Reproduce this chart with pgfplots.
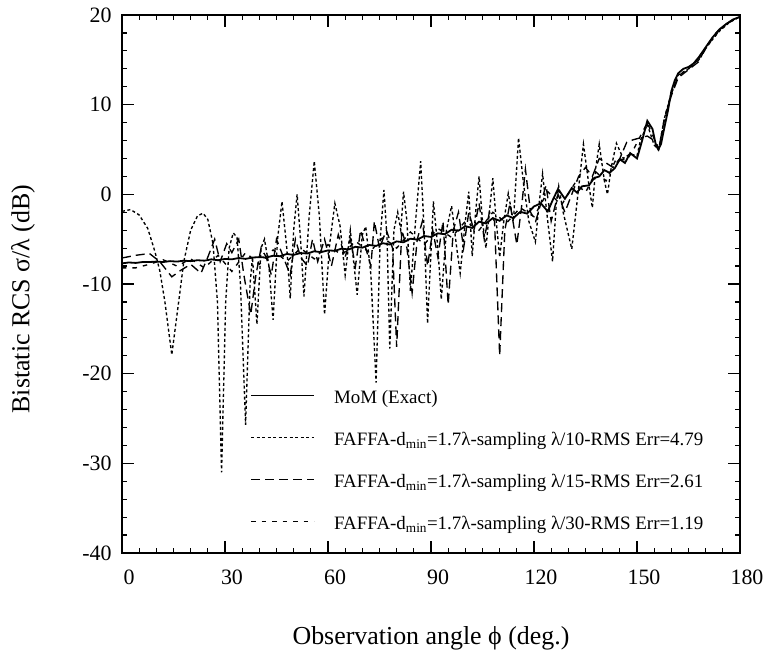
\documentclass[border=0pt]{standalone}
\usepackage{fontspec}
\setmainfont{Liberation Serif}
\usepackage{pgfplots}
\pgfplotsset{compat=1.18}
\usetikzlibrary{calc}
\begin{document}
\begin{tikzpicture}
\begin{axis}[
  name=ax,
  scale only axis, width=618bp, height=538bp,
  xmin=0, xmax=180, ymin=-40, ymax=20,
  xtick={0,30,...,180}, ytick={-40,-30,...,20},
  minor x tick num=5, minor y tick num=4,
  tick align=inside,
  major tick length=12bp, minor tick length=5bp,
  axis line style={line width=1.6bp},
  every tick/.style={line width=1.2bp, black},
  /pgf/number format/assume math mode=true,
  tick label style={font=\fontsize{22}{26}\selectfont},
  xticklabel style={yshift=-13bp, xshift=7bp},
  yticklabel style={xshift=-7bp},
  xlabel={Observation angle ϕ (deg.)},
  ylabel={Bistatic RCS σ/λ (dB)},
  every axis x label/.style={at={(axis description cs:0.5,-0.158)}, anchor=center, font=\fontsize{26}{30}\selectfont},
  every axis y label/.style={at={(axis description cs:-0.160,0.472)}, anchor=center, rotate=90, font=\fontsize{26}{30}\selectfont},
  legend cell align=left,
  legend style={draw=none, fill=none, at={(axis cs:37.3,-21.9)}, anchor=north west,
    inner sep=0pt, row sep=23bp, column sep=19bp,
    font=\fontsize{19}{22}\selectfont,
    nodes={inner sep=0pt, text height=13bp, text depth=6bp}},
  legend image code/.code={\draw[#1] (0bp,5bp) -- (63bp,5bp);},
]
% MoM (Exact)
\addplot[black, line width=1.8bp] coordinates {
(0,-7.7) (2,-7.6) (4,-7.65) (6,-7.55) (8,-7.55) (10,-7.5) (12,-7.55) (14,-7.45)
(16,-7.5) (18,-7.4) (20,-7.45) (22,-7.35) (24,-7.4) (26,-7.25) (28,-7.35) (30,-7.2)
(32,-7.25) (34,-7.1) (36,-7.2) (38,-7.05) (40,-7.0) (42,-7.05) (44,-6.85) (46,-6.9)
(48,-6.65) (50,-6.75) (52,-6.55) (54,-6.6) (56,-6.35) (58,-6.45) (60,-6.25) (62,-6.3)
(64,-6.05) (66,-6.15) (68,-5.85) (70,-5.95) (72,-5.65) (74,-5.75) (76,-5.45) (78,-5.6)
(80,-5.25) (82,-5.35) (84,-4.95) (86,-5.05) (88,-4.65) (90,-4.75) (92,-4.35) (94,-4.45)
(96,-3.95) (98,-4.05) (100,-3.55) (102,-3.75) (104,-3.05) (106,-3.25) (108,-2.65) (110,-2.95)
(112,-2.35) (114,-2.65) (116,-1.95) (118,-2.15) (120,-1.35) (122,-1.0) (124,-1.9) (125.5,-0.6)
(127,0.6) (129,-0.5) (131,0.7) (132.5,0.2) (134,0.9) (136,1.0) (137.5,1.8) (139,2.0)
(140.5,2.7) (142,2.4) (143.5,2.9) (145,3.9) (146.5,3.5) (148,4.6) (150,4.0) (151.5,6.0)
(153,8.2) (154.5,7.3) (155.5,5.5) (156.2,5.0) (157,5.6) (158,7.5) (159,9.3) (160,11.5)
(161,12.7) (162,13.5) (163.5,14.0) (165,14.2) (166.5,14.6) (168,15.3) (170,16.4) (172,17.5)
(174,18.4) (176,19.0) (178,19.5) (180,19.8)
};
\addlegendentry{MoM (Exact)}
% lambda/10
\addplot[black, line width=1.35bp, dash pattern=on 3bp off 2.5bp] coordinates {
(0,-1.9) (2.5,-1.7) (5,-2.3) (7.5,-3.8) (9.6,-6.4) (11,-8.5) (12.5,-12) (14.5,-17.9)
(16.5,-12) (18,-7.5) (20,-4) (22,-2.4) (23.6,-2.1) (25,-2.8) (26.5,-5.5) (27.8,-12)
(29,-31) (30.2,-12) (31.2,-6) (32.4,-4.3) (33.5,-4.8) (34.5,-10) (36,-25.7) (37.3,-10)
(38,-7) (39.3,-14.5) (40.5,-6) (41.5,-5) (42.8,-8) (44,-14) (45.3,-5) (46.6,-0.8)
(48,-6) (49,-11.6) (50,-4) (51,0) (52,-5) (53,-11.4) (54.5,-2.5) (56,3.7)
(57.5,-2.5) (59,-13.4) (60.5,-5.5) (62,-1) (63.5,-3.5) (65,-9) (66.5,-4) (68.5,-11.2)
(70,-4.5) (71,-3.6) (72.5,-9) (74,-21) (75.2,-5) (76.3,0.5) (77.2,-5) (78,-17.2)
(79.2,-4) (80.3,-2) (81.2,-4) (82,0.3) (83,-3) (84,-10.8) (85.5,-3) (87,3.7)
(88,-4) (89,-14.4) (90.7,-0.8) (92,-6) (93,-11.7) (94.5,-4) (96,-1.3) (97.5,-6)
(98.5,-8.8) (100,-3) (101,0.3) (102,-6.9) (103,-2) (104,2) (105,-3) (106,-6)
(107,-2) (108,1.8) (109,-3) (110,-7) (111.2,-3) (112.5,0.1) (114,-3) (115.5,6.3)
(117,1) (118.5,-3) (120.4,-5.3) (121.5,-1) (122.5,2.3) (124,-3) (125.4,-7.5) (126.5,-1)
(127.2,0.9) (128.5,-2) (131,-6.1) (132.5,-1) (134.4,5.6) (136,1) (137,-1.5) (138,3)
(139,5.6) (140.5,1.5) (141.4,0) (142.5,3) (144,5.7) (146,4) (148,4.5) (150,4.3)
(151,6.0) (153,7.8) (155,5.5) (156.3,5.0) (158,8.5) (160,11.3) (162,13.3) (165,14.0)
(168,15.1) (171,16.8) (174,18.2) (177,19.2) (180,19.8)
};
\addlegendentry{FAFFA-d\textsubscript{min}=1.7λ-sampling λ/10-RMS Err=4.79}
% lambda/15
\addplot[black, line width=1.35bp, dash pattern=on 9bp off 5bp] coordinates {
(0,-7.1) (4,-6.8) (8,-6.6) (11,-7.5) (14.5,-9.2) (17,-8.5) (20,-7.8) (23,-8.8)
(25,-7) (27,-5) (28.6,-7.5) (30.5,-5.5) (32,-6.5) (34,-5) (35.5,-9) (37.5,-13.4)
(39,-9) (40.5,-6) (42,-7) (43.5,-9) (45,-5) (47,-7) (49,-9) (50.5,-5)
(52,-7) (54,-8) (55.5,-5) (57,-7.5) (59,-5) (61,-8) (63,-4.5) (65,-7)
(66.5,-5) (68,-8) (69.5,-4) (71,-6) (72.5,-8) (73.5,-3) (75,-6) (77,-4)
(78.8,-6) (80,-17) (81.5,-4) (83,-6) (84.5,-11) (86,-5) (87.5,-3) (89,-8)
(90.5,-4) (92,-7) (93.5,-3) (95,-12.3) (96.5,-4) (98,-2) (99.5,-6) (101,-2)
(102.5,-4) (104,-1) (105.5,-5) (107,-2) (108.5,-3) (110,-18) (111.5,-4) (113,-1)
(115,-5.6) (116.5,-1) (117.5,2.8) (119,-2) (120.5,-3) (122,-1) (123.5,1) (125,-3)
(127,0) (129,-2) (131,0) (133,2) (135,3) (137,2) (139,4) (141,3.5)
(143,3) (145,4) (147,5.8) (149,6.1) (151,6.3) (153,6.5) (155,6.0) (156.3,5.0)
(158,8.5) (160,11) (162,13) (164,13.6) (166,14.2) (168,14.8) (170,16.4) (173,18)
(176,19) (178,19.5) (180,19.8)
};
\addlegendentry{FAFFA-d\textsubscript{min}=1.7λ-sampling λ/15-RMS Err=2.61}
% lambda/30
\addplot[black, line width=1.35bp, dash pattern=on 4.5bp off 6bp] coordinates {
(0,-8.2) (4,-8.2) (8,-7.8) (12,-7.3) (16,-8.0) (20,-7.2) (24,-8.2) (28,-6.8)
(32,-8.6) (36,-6.5) (40,-7.8) (44,-6.2) (48,-7.5) (52,-6.0) (56,-7.2) (60,-5.6)
(64,-6.8) (68,-5.2) (72,-6.5) (76,-4.8) (80,-6.0) (84,-4.2) (88,-5.6) (92,-3.8)
(96,-4.8) (100,-3.0) (104,-4.0) (108,-2.0) (112,-3.2) (116,-1.5) (120,-2.5) (124,0.3)
(128,-1.2) (132,1.3) (135,0.2) (138,2.5) (141,1.5) (144,4.0) (147,3.8) (149,5.0)
(151,6.5) (153,8.0) (155,6.2) (156.5,5.0) (158,8.5) (160,11.2) (162,13.2) (165,14.0)
(168,15.0) (171,16.8) (174,18.3) (177,19.2) (180,19.8)
};
\addlegendentry{FAFFA-d\textsubscript{min}=1.7λ-sampling λ/30-RMS Err=1.19}
\end{axis}
\pgfresetboundingbox
\path[use as bounding box] ($(ax.south west)+(-122bp,-104bp)$) rectangle ($(ax.north east)+(23bp,15bp)$);
\end{tikzpicture}
\end{document}
